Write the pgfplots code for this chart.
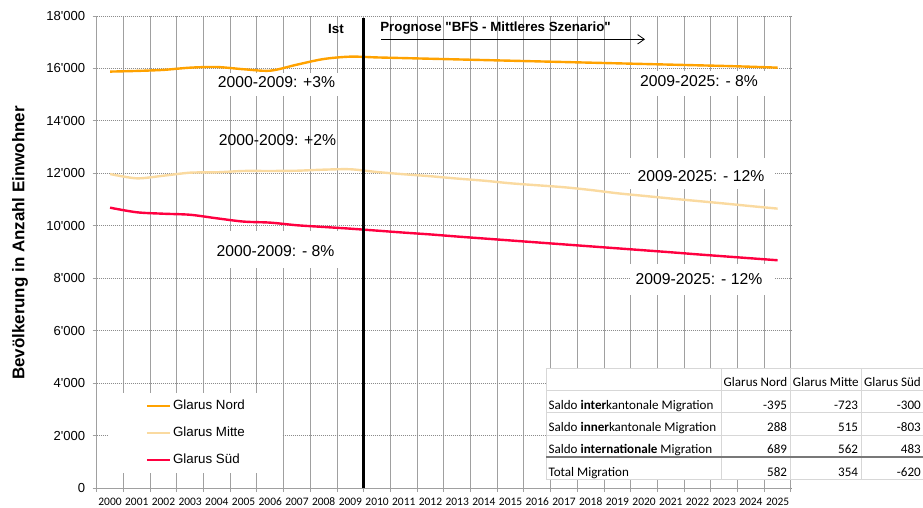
\documentclass[border=0pt]{standalone}
\usepackage{fontspec}
\setmainfont{Liberation Sans}
\newfontfamily\carlito{Carlito}
\usepackage{pgfplots}
\usepackage{pgfplotstable}
\pgfplotsset{compat=1.18}
\usetikzlibrary{arrows.meta}
\definecolor{cNord}{RGB}{255,162,0}
\definecolor{cMitte}{RGB}{250,218,160}
\definecolor{cSued}{RGB}{255,0,64}
\definecolor{gridgray}{RGB}{160,160,160}
\definecolor{dotgray}{RGB}{140,140,140}
\definecolor{tabline}{RGB}{215,215,215}
\definecolor{tabthick}{RGB}{120,120,120}

\pgfplotstableread{
year nord mitte sued
2000 15880 11975 10690
2001 15905 11810 10515
2002 15945 11910 10460
2003 16030 12025 10420
2004 16055 12040 10285
2005 15970 12090 10160
2006 15915 12090 10120
2007 16145 12100 10020
2008 16360 12140 9955
2009 16450 12155 9890
2010 16420 12050 9815
2011 16395 11965 9740
2012 16370 11890 9670
2013 16345 11800 9590
2014 16320 11720 9515
2015 16295 11620 9440
2016 16270 11545 9365
2017 16245 11470 9290
2018 16220 11365 9215
2019 16195 11240 9140
2020 16170 11140 9065
2021 16145 11040 8990
2022 16120 10945 8910
2023 16095 10850 8835
2024 16065 10750 8760
2025 16030 10655 8685
}\data

\begin{document}
\begin{tikzpicture}
\path[use as bounding box] (0pt,0pt) rectangle (692.25pt,-380.25pt);
\begin{axis}[
  at={(72.525pt,-366pt)}, anchor=south west,
  scale only axis, width=520.7pt, height=354pt,
  xmin=1999.5, xmax=2025.5, ymin=0, ymax=18000,
  scaled x ticks=false, scaled y ticks=false,
  xtick={1999.5,2000.5,2001.5,2002.5,2003.5,2004.5,2005.5,2006.5,2007.5,2008.5,2009.5,2010.5,2011.5,2012.5,2013.5,2014.5,2015.5,2016.5,2017.5,2018.5,2019.5,2020.5,2021.5,2022.5,2023.5,2024.5,2025.5},
  xticklabels={},
  extra x ticks={2000,2001,2002,2003,2004,2005,2006,2007,2008,2009,2010,2011,2012,2013,2014,2015,2016,2017,2018,2019,2020,2021,2022,2023,2024,2025},
  extra x tick labels={2000,2001,2002,2003,2004,2005,2006,2007,2008,2009,2010,2011,2012,2013,2014,2015,2016,2017,2018,2019,2020,2021,2022,2023,2024,2025},
  extra x tick style={grid=none, major tick length=0pt, tick style={draw=none}},
  xticklabel style={font=\carlito\fontsize{8.6}{9}\selectfont, inner sep=0pt, yshift=-7pt},
  ytick={0,2000,4000,6000,8000,10000,12000,14000,16000,18000},
  yticklabels={0,2\textquotesingle000,4\textquotesingle000,6\textquotesingle000,8\textquotesingle000,10\textquotesingle000,12\textquotesingle000,14\textquotesingle000,16\textquotesingle000,18\textquotesingle000},
  yticklabel style={font=\fontsize{9.8}{11}\selectfont, inner sep=0pt, xshift=-5.5pt},
  grid=major,
  x grid style={gridgray, line width=0.75pt},
  y grid style={dotgray, line width=0.75pt, dash pattern=on 0.75pt off 0.75pt},
  axis x line*=bottom, axis y line*=left,
  axis line style={gridgray, line width=0.75pt, -},
  tick align=outside, major tick length=3pt,
  tick style={gridgray, line width=0.75pt},
  legend style={at={(0.01628,0.2013)}, anchor=north west, draw=none, fill=white,
    inner xsep=28pt, inner ysep=4.75pt, row sep=10.25pt, column sep=1.5pt,
    font=\fontsize{10}{12}\selectfont,
    nodes={inner sep=0pt, text height=7.5pt, text depth=2.5pt}},
  legend image code/.code={\draw[#1] (0pt,0pt) -- (17.25pt,0pt);},
  legend cell align=left,
]
\addplot[cNord, line width=1.8pt, smooth] table[x=year,y=nord] {\data};
\addlegendentry{Glarus Nord}
\addplot[cMitte, line width=1.8pt, smooth] table[x=year,y=mitte] {\data};
\addlegendentry{Glarus Mitte}
\addplot[cSued, line width=1.8pt, smooth] table[x=year,y=sued] {\data};
\addlegendentry{Glarus S\"ud}
\draw[black, line width=2.25pt] (axis cs:2009.5,0) -- (axis cs:2009.5,17920);
\end{axis}

\begin{scope}[x=0.75pt,y=-0.75pt]
% white boxes behind annotations
\fill[white] (205,73) rectangle (345,96);
\fill[white] (205,231) rectangle (345,268);
\fill[white] (633,71) rectangle (780,96);
\fill[white] (630,158) rectangle (775,189);
\fill[white] (630,264) rectangle (775,295);

\begin{scope}[every node/.style={font=\fontsize{11.8}{13}\selectfont, inner sep=0pt}]
\node at (276.5,82.5) {2000-2009: +3\%};
\node at (277.5,140) {2000-2009: +2\%};
\node at (275.5,251) {2000-2009: - 8\%};
\node at (699,81) {2009-2025: - 8\%};
\node at (701,176) {2009-2025: - 12\%};
\node at (699,279) {2009-2025: - 12\%};
\end{scope}

\node[font=\bfseries\fontsize{10}{12}\selectfont, inner sep=0pt] at (336,29) {Ist};
\node[font=\bfseries\fontsize{10}{12}\selectfont, inner sep=0pt, anchor=west] at (380,28.3) {Prognose \textquotedbl BFS - Mittleres Szenario\textquotedbl};
\draw[black, line width=0.6pt, -{Straight Barb[length=5pt,width=7pt]}] (381,39.3) -- (645,39.3);

\node[font=\bfseries\fontsize{12.7}{14}\selectfont, rotate=90, inner sep=0pt] at (20,243) {Bevölkerung in Anzahl Einwohner};

% table
\fill[white] (546,368.3) rectangle (923,479.3);
\draw[tabline, line width=0.75pt] (546,368.3) -- (923,368.3);
\draw[tabline, line width=0.75pt] (546,390.7) -- (923,390.7);
\draw[tabline, line width=0.75pt] (546,412.7) -- (923,412.7);
\draw[tabline, line width=0.75pt] (546,435) -- (923,435);
\draw[tabline, line width=0.75pt] (546,479.3) -- (923,479.3);
\draw[tabline, line width=0.75pt] (546,368.3) -- (546,479.3);
\draw[tabline, line width=0.75pt] (721,368.3) -- (721,479.3);
\draw[tabline, line width=0.75pt] (790,368.3) -- (790,479.3);
\draw[tabline, line width=0.75pt] (861.7,368.3) -- (861.7,479.3);
\draw[tabthick, line width=1.5pt] (546,457.3) -- (923,457.3);
\begin{scope}[every node/.style={font=\carlito\fontsize{9.8}{11}\selectfont, inner sep=0pt}]
\node[anchor=base] at (755.5,386.7) {Glarus Nord};
\node[anchor=base] at (825.8,386.7) {Glarus Mitte};
\node[anchor=base] at (892.5,386.7) {Glarus Süd};
\node[anchor=base west] at (548.3,409) {Saldo \textbf{inter}kantonale Migration};
\node[anchor=base west] at (548.3,431.5) {Saldo \textbf{inner}kantonale Migration};
\node[anchor=base west] at (548.3,453.3) {Saldo \textbf{internationale} Migration};
\node[anchor=base west] at (548.3,476) {Total Migration};
\node[anchor=base east] at (787.3,409) {-395};
\node[anchor=base east] at (858.3,409) {-723};
\node[anchor=base east] at (921,409) {-300};
\node[anchor=base east] at (787.3,431.5) {288};
\node[anchor=base east] at (858.3,431.5) {515};
\node[anchor=base east] at (921,431.5) {-803};
\node[anchor=base east] at (787.3,453.3) {689};
\node[anchor=base east] at (858.3,453.3) {562};
\node[anchor=base east] at (921,453.3) {483};
\node[anchor=base east] at (787.3,476) {582};
\node[anchor=base east] at (858.3,476) {354};
\node[anchor=base east] at (921,476) {-620};
\end{scope}
\end{scope}
\end{tikzpicture}
\end{document}
